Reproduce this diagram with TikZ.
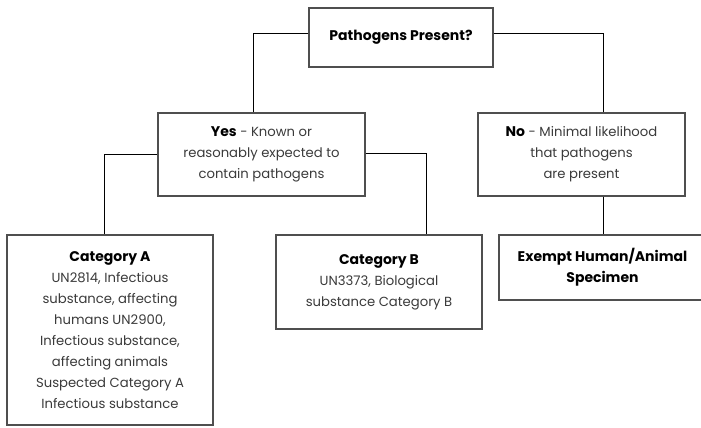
\documentclass[tikz,border=0pt]{standalone}
\usepackage{fontspec}
\setmainfont{Poppins}
\usetikzlibrary{positioning}
\definecolor{boxgray}{HTML}{4F4F4F}
\definecolor{txtgray}{HTML}{3A3A3A}
\newcommand\hd[1]{\textcolor{black}{\fontsize{14}{21}\selectfont\bfseries #1}}

\begin{document}
\begin{tikzpicture}[x=1pt,y=-1pt,
	box/.style={draw=boxgray, line width=1.2pt, align=center, text=txtgray,
		inner sep=0pt, font=\fontsize{13.2}{21}\selectfont},
	link/.style={draw=black, line width=1pt}]
	\useasboundingbox (0,0) rectangle (701,428);
	% question
	\node[box, minimum width=184pt, minimum height=59pt] (pp) at (401,37.5) {\hd{Pathogens Present?}};
	% yes / no
	\node[box, minimum width=207pt, minimum height=83pt] (yes) at (261.5,154.5)
		{\hd{Yes} - Known or\\ reasonably expected to\\ contain pathogens};
	\node[box, minimum width=207pt, minimum height=83pt] (no) at (581.5,154.5)
		{\hd{No} - Minimal likelihood\\ that pathogens\\ are present};
	% categories
	\node[box, minimum width=206pt, minimum height=190pt] (catA) at (110,330)
		{\hd{Category A}\\ UN2814, Infectious\\ substance, affecting\\ humans UN2900,\\
		 Infectious substance,\\ affecting animals\\ Suspected Category A\\ Infectious substance};
	\node[box, minimum width=206pt, minimum height=94pt] (catB) at (379,282)
		{\hd{Category B}\\ UN3373, Biological\\ substance Category B};
	\node[box, minimum width=207pt, minimum height=65pt] (ex) at (602.5,267.5)
		{\hd{Exempt Human/Animal}\\ \hd{Specimen}};
	% links
	\draw[link] ([yshift=3.5pt]pp.west) -| ([xshift=-8.5pt]yes.north);
	\draw[link] ([yshift=3.5pt]pp.east) -| ([xshift=21.5pt]no.north);
	\draw[link] (yes.west) -| ([xshift=-6pt]catA.north);
	\draw[link] ([yshift=1.5pt]yes.east) -| ([xshift=47pt]catB.north);
	\draw[link] ([xshift=21.5pt]no.south) -- ([xshift=21.5pt]no.south |- ex.north);
\end{tikzpicture}
\end{document}
